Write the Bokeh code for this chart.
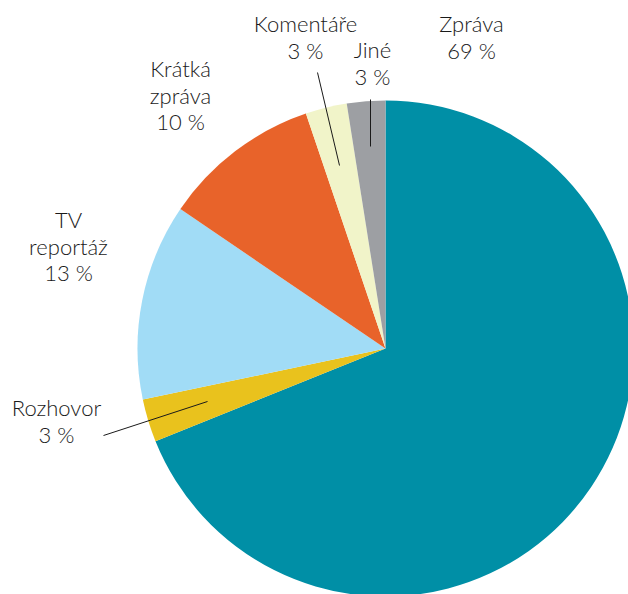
import math
from bokeh.plotting import figure
from bokeh.models import Range1d, ColumnDataSource
from bokeh.core.properties import value
from bokeh.embed import file_html
from bokeh.resources import INLINE

# ---- data ----
categories = ["Zpráva", "Rozhovor", "TV reportáž", "Krátká zpráva", "Komentáře", "Jiné"]
shares = [68.9, 2.8, 12.8, 10.3, 2.7, 2.5]
label_pct = ["69 %", "3 %", "13 %", "10 %", "3 %", "3 %"]
colors = ["#008fa6", "#e9c21d", "#a1dcf6", "#e8632a", "#f1f4c9", "#9d9fa3"]

# label line layout (screen px): name lines, x centre, first line anchor
label_lines = [
    ["Zpráva"],
    ["Rozhovor"],
    ["TV", "reportáž"],
    ["Krátká", "zpráva"],
    ["Komentáře"],
    ["Jiné"],
]
label_x = [471, 56, 68, 180, 305, 372]
label_y0 = [23, 407, 219, 68, 23, 49]
LINE_H = 26.5
# leader lines (screen px)
leaders = {
    "Rozhovor": ((103, 435), (207, 401)),
    "Komentáře": ((317, 72), (339, 165)),
    "Jiné": ((370, 99), (370, 146)),
}

CX, CY, R = 385, 348, 248
OX, OY = 0, 0
W, H = 628, 594


def ux(x):
    return (x - CX) / R


def uy(y):
    return (CY - y) / R


p = figure(width=W, height=H, output_backend="svg", toolbar_location=None,
           x_range=Range1d(ux(OX), ux(OX + W)), y_range=Range1d(uy(OY + H), uy(OY)),
           min_border=0)
p.axis.visible = False
p.grid.visible = False
p.outline_line_color = None
p.background_fill_color = "white"
p.border_fill_color = "white"

total = sum(shares)
starts, ends = [], []
cum = 0.0
for s in shares:
    a0 = cum / total * 2 * math.pi
    cum += s
    a1 = cum / total * 2 * math.pi
    starts.append(math.pi / 2 - a0)
    ends.append(math.pi / 2 - a1)

src = ColumnDataSource(dict(cat=categories, start=starts, end=ends, color=colors))
p.wedge(x=0, y=0, radius=1, start_angle="start", end_angle="end", direction="clock",
        fill_color="color", line_color=None, source=src)

# leader lines
xs0, ys0, xs1, ys1 = [], [], [], []
for (a, b) in leaders.values():
    xs0.append(ux(a[0])); ys0.append(uy(a[1]))
    xs1.append(ux(b[0])); ys1.append(uy(b[1]))
p.segment(x0=xs0, y0=ys0, x1=xs1, y1=ys1, line_color="#1a1a1a", line_width=1)

# labels
tx, ty, tt = [], [], []
for lines, pct, x, y0 in zip(label_lines, label_pct, label_x, label_y0):
    all_lines = lines + [pct]
    for i, t in enumerate(all_lines):
        tx.append(ux(x)); ty.append(uy(y0 + i * LINE_H)); tt.append(t)
p.text(x=tx, y=ty, text=tt, text_align="center", text_baseline="middle",
       text_font=value("'Lato Light', Lato"), text_font_size="22px", text_color="#1a1a1a")

open("out.html", "w").write(file_html(p, INLINE))
